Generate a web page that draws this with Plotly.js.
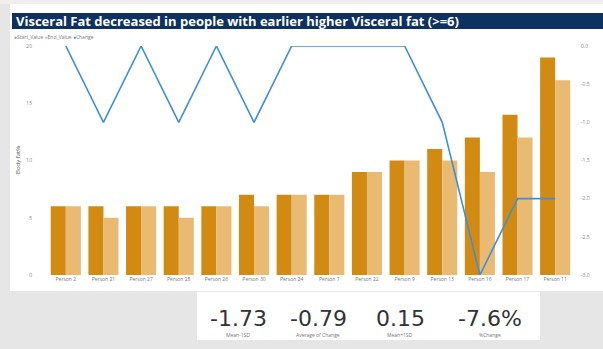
<!DOCTYPE html>
<html><head><meta charset="utf-8">
<script src="https://cdn.plot.ly/plotly-3.0.1.min.js"></script>
<style>html,body{margin:0;padding:0;background:#e6e6e6;}#chart{width:603px;height:349px;}</style>
</head><body><div id="chart"></div>
<script>
const persons = ["Person 2","Person 21","Person 27","Person 28","Person 26","Person 30","Person 24","Person 7","Person 22","Person 9","Person 13","Person 16","Person 17","Person 11"];
const startValue = [6,6,6,6,6,7,7,7,9,10,11,12,14,19];
const endValue = [6,5,6,5,6,6,7,7,9,10,10,9,12,17];
const change = [0,-1,0,-1,0,-1,0,0,0,0,-1,-3,-2,-2];
const statValues = ["-1.73","-0.79","0.15","-7.6%"];
const statLabels = ["Mean-1SD","Average of Change","Mean+1SD","%Change"];

const W=603,H=349,L=47,R=574,T=46,B=275;
const px=x=>(x-L)/(R-L), py=y=>(B-y)/(B-T);
const rect=(x0,y0,x1,y1,fill)=>({type:'rect',xref:'paper',yref:'paper',x0:px(x0),x1:px(x1),y0:py(y1),y1:py(y0),fillcolor:fill,line:{width:0},layer:'below'});

const dark='#d18a12', light='#e9bb72', blue='#3d8fdb';
const traces=[
 {type:'bar',name:'Start_Value',x:persons,y:startValue,marker:{color:dark},hoverinfo:'none'},
 {type:'bar',name:'End_Value',x:persons,y:endValue,marker:{color:light},hoverinfo:'none'},
 {type:'scatter',mode:'lines',name:'Change',x:persons,y:change,yaxis:'y2',line:{color:blue,width:1.6},hoverinfo:'none'}
];
const ann=[
 {xref:'paper',yref:'paper',x:px(14),y:py(21),xanchor:'left',yanchor:'middle',text:'<b>Visceral Fat decreased in people with earlier higher Visceral fat (>=6)</b>',showarrow:false,font:{family:'Open Sans, DejaVu Sans',size:13,color:'#ffffff'}},
 {xref:'paper',yref:'paper',x:px(12),y:py(37),xanchor:'left',yanchor:'middle',showarrow:false,
  text:'<span style="color:'+dark+'">●</span>Start_Value <span style="color:'+light+'">●</span>End_Value <span style="color:'+blue+'">●</span>Change',font:{family:'Open Sans',size:5,color:'#777'}},
 {xref:'paper',yref:'paper',x:px(18),y:py(160),xanchor:'center',yanchor:'middle',textangle:-90,showarrow:false,text:'Body fat%',font:{family:'Open Sans',size:6,color:'#555'}}
];
const sx=[238,318,400,490];
for(let i=0;i<4;i++){
 ann.push({xref:'paper',yref:'paper',x:px(sx[i]),y:py(318),xanchor:'center',yanchor:'middle',showarrow:false,text:statValues[i],font:{family:'DejaVu Sans, Open Sans',size:22,color:'#333'}});
 ann.push({xref:'paper',yref:'paper',x:px(sx[i]),y:py(335),xanchor:'center',yanchor:'middle',showarrow:false,text:statLabels[i],font:{family:'Open Sans',size:5,color:'#777'}});
}
const layout={
 width:W,height:H,margin:{l:L,r:W-R,t:T,b:H-B,pad:0},
 paper_bgcolor:'#e6e6e6',plot_bgcolor:'rgba(0,0,0,0)',
 showlegend:false,barmode:'group',bargap:0.2,bargroupgap:0,
 xaxis:{type:'category',showgrid:false,zeroline:false,showline:false,ticks:'',tickfont:{family:'Open Sans',size:5,color:'#777'},tickangle:0,fixedrange:true},
 yaxis:{range:[0,20],tickvals:[0,5,10,15,20],showgrid:false,zeroline:false,showline:false,tickfont:{family:'Open Sans',size:5,color:'#888'},ticklabelstandoff:14,fixedrange:true},
 yaxis2:{overlaying:'y',side:'right',range:[-3,0],tickvals:[0,-0.5,-1,-1.5,-2,-2.5,-3],ticktext:['0.0','-0.5','-1.0','-1.5','-2.0','-2.5','-3.0'],showgrid:false,zeroline:false,showline:false,tickfont:{family:'Open Sans',size:5,color:'#888'},ticklabelstandoff:6,fixedrange:true},
 shapes:[rect(0,0,603,4,'#f3eeee'),rect(10,4,603,291,'#ffffff'),rect(12,13,603,29,'#0d3161'),rect(197,292,540,340,'#ffffff')],
 annotations:ann
};
Plotly.newPlot('chart',traces,layout,{displayModeBar:false,staticPlot:true});
</script></body></html>
